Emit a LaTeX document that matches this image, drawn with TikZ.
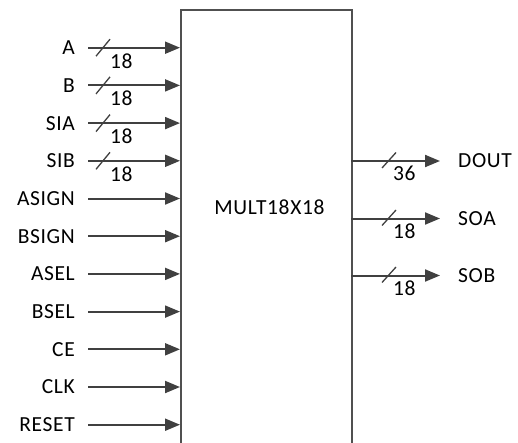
\documentclass[tikz,border=0pt]{standalone}
\usepackage{fontspec}
\setmainfont{Carlito}[LetterSpace=3]
\usetikzlibrary{arrows.meta,calc}
\definecolor{wire}{HTML}{404040}
\definecolor{boxc}{HTML}{505050}
\tikzset{
  sig/.style={draw=wire, line width=2pt, -{Triangle[length=15pt,width=12pt]}},
  slashline/.style={draw=wire, line width=1.3pt},
  pinlbl/.style={font=\fontsize{21.5}{25}\selectfont, inner sep=0pt, text=black},
  buslbl/.style={font=\fontsize{21.5}{25}\selectfont, inner sep=0pt, anchor=north west, text=black},
}
\begin{document}
\begin{tikzpicture}[x=1pt,y=-1pt]
\useasboundingbox (0,0) rectangle (518,442);
\clip (0,0) rectangle (518,442);
\node[draw=boxc, line width=2pt, minimum width=171pt, minimum height=480pt, anchor=north west, inner sep=0pt] (m) at (180,9) {};
\node[pinlbl] (title) at (269.5,207) {MULT18X18};
% inputs
\foreach \nm/\y/\bus [count=\i] in {A/47.7/18, B/85.4/18, SIA/123.1/18, SIB/160.8/18, ASIGN/198.5/, BSIGN/236.2/, ASEL/273.9/, BSEL/311.6/, CE/349.3/, CLK/387/, RESET/424.7/}{
  \node[pinlbl, anchor=east] (l\i) at (75,\y) {\nm};
  \coordinate (s\i) at (88,\y);
  \draw[sig] (s\i) -- (s\i -| m.west);
  \ifx\bus\empty\else
    \draw[slashline] ($(s\i)+(8,8.5)$) -- ($(s\i)+(22,-8.5)$);
    \node[buslbl] (b\i) at ($(s\i)+(22,5.5)$) {\bus};
  \fi
}
% outputs
\foreach \nm/\y/\bus [count=\i] in {DOUT/161/36, SOA/218.5/18, SOB/275.5/18}{
  \coordinate (o\i) at (351,\y);
  \coordinate (e\i) at (440,\y);
  \draw[sig] (o\i) -- (e\i);
  \draw[slashline] ($(o\i)+(31,7)$) -- ($(o\i)+(45,-8.5)$);
  \node[buslbl] (c\i) at ($(o\i)+(42,5)$) {\bus};
  \node[pinlbl, anchor=west] (r\i) at (458,\y) {\nm};
}
\end{tikzpicture}
\end{document}
